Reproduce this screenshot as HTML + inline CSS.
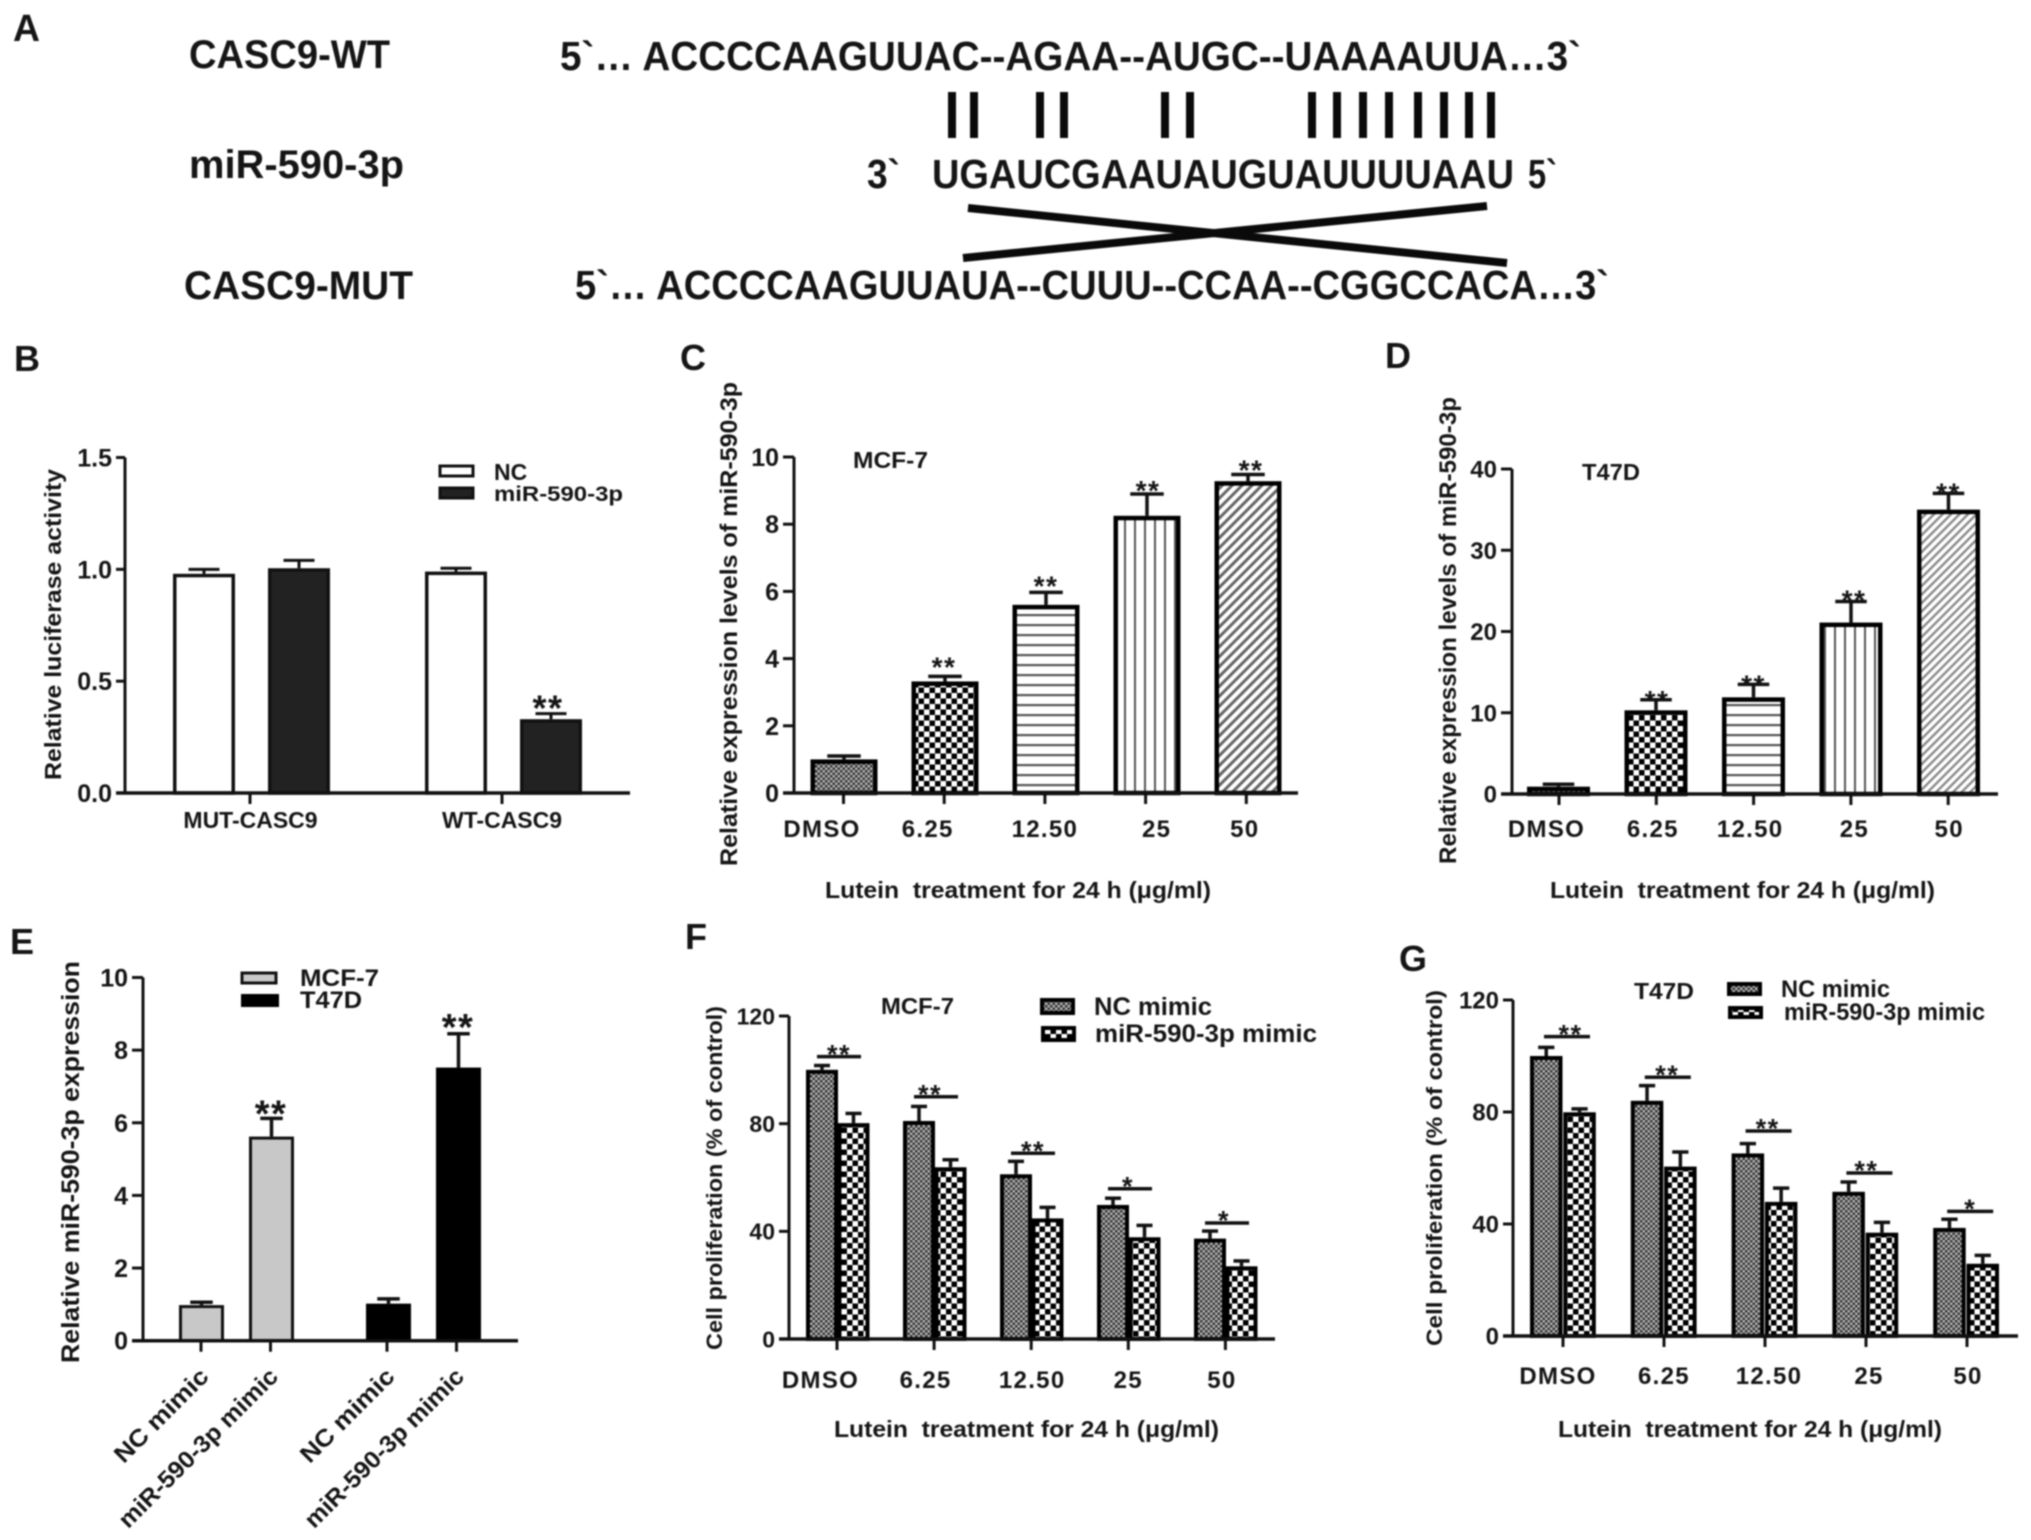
<!DOCTYPE html>
<html lang="en">
<head>
<meta charset="utf-8">
<title>CASC9 and miR-590-3p figure</title>
<style>
html,body{margin:0;padding:0;background:#fff;width:2031px;height:1540px;overflow:hidden}
svg{display:block;filter:blur(.8px)}
text{font-family:"Liberation Sans",sans-serif;font-weight:bold;fill:#151515}
</style>
</head>
<body>
<svg id="figure" xmlns="http://www.w3.org/2000/svg" width="2031" height="1540" viewBox="0 0 2031 1540">
<defs>
<pattern id="pFine" patternUnits="userSpaceOnUse" width="5" height="5"><rect width="5" height="5" fill="#b5b5b5"/><rect width="2.5" height="2.5" fill="#333"/><rect x="2.5" y="2.5" width="2.5" height="2.5" fill="#333"/></pattern>
<pattern id="pCheck" patternUnits="userSpaceOnUse" width="11" height="11"><rect width="11" height="11" fill="#fff"/><rect width="5.5" height="5.5" fill="#000"/><rect x="5.5" y="5.5" width="5.5" height="5.5" fill="#000"/></pattern>
<pattern id="pH" patternUnits="userSpaceOnUse" width="10" height="10"><rect width="10" height="10" fill="#fff"/><rect y="4" width="10" height="2.2" fill="#555"/></pattern>
<pattern id="pV" patternUnits="userSpaceOnUse" width="10" height="10"><rect width="10" height="10" fill="#fff"/><rect x="4" width="2" height="10" fill="#555"/></pattern>
<pattern id="pD" patternUnits="userSpaceOnUse" width="7" height="7" patternTransform="rotate(45)"><rect width="7" height="7" fill="#fff"/><rect x="2" width="3" height="7" fill="#666"/></pattern>
<pattern id="pDLight" patternUnits="userSpaceOnUse" width="6" height="6" patternTransform="rotate(45)"><rect width="6" height="6" fill="#fff"/><rect x="2" width="2.4" height="6" fill="#8a8a8a"/></pattern>
</defs>

<g id="panel-a">
<text x="13" y="41" font-size="38" textLength="27" lengthAdjust="spacingAndGlyphs">A</text>
<text x="189" y="68" font-size="40" textLength="201" lengthAdjust="spacingAndGlyphs">CASC9-WT</text>
<text x="189" y="178" font-size="40" textLength="215" lengthAdjust="spacingAndGlyphs">miR-590-3p</text>
<text x="184" y="299" font-size="40" textLength="229" lengthAdjust="spacingAndGlyphs">CASC9-MUT</text>
<text x="560" y="70" font-size="41" textLength="1021" lengthAdjust="spacingAndGlyphs">5`… ACCCCAAGUUAC--AGAA--AUGC--UAAAAUUA…3`</text>
<text x="867" y="188" font-size="41" textLength="33" lengthAdjust="spacingAndGlyphs">3`</text>
<text x="932" y="188" font-size="41" textLength="582" lengthAdjust="spacingAndGlyphs">UGAUCGAAUAUGUAUUUUAAU</text>
<text x="1528" y="188" font-size="41" textLength="29" lengthAdjust="spacingAndGlyphs">5`</text>
<text x="575" y="299" font-size="41" textLength="1034" lengthAdjust="spacingAndGlyphs">5`… ACCCCAAGUUAUA--CUUU--CCAA--CGGCCACA…3`</text>
<g fill="#0a0a0a">
<rect x="948" y="92" width="8" height="46"/>
<rect x="970" y="92" width="8" height="46"/>
<rect x="1036" y="92" width="8" height="46"/>
<rect x="1060" y="92" width="8" height="46"/>
<rect x="1161" y="92" width="8" height="46"/>
<rect x="1186" y="92" width="8" height="46"/>
<rect x="1308" y="92" width="8" height="46"/>
<rect x="1333" y="92" width="8" height="46"/>
<rect x="1359" y="92" width="8" height="46"/>
<rect x="1385" y="92" width="8" height="46"/>
<rect x="1414" y="92" width="8" height="46"/>
<rect x="1440" y="92" width="8" height="46"/>
<rect x="1465" y="92" width="8" height="46"/>
<rect x="1487" y="92" width="8" height="46"/>
</g>
<line x1="968" y1="208" x2="1507" y2="263" stroke="#0a0a0a" stroke-width="8"/>
<line x1="963" y1="258" x2="1487" y2="206" stroke="#0a0a0a" stroke-width="8"/>
</g>

<g id="panel-b">
<text x="14" y="371" font-size="36">B</text>
<text transform="translate(61 624.5) rotate(-90)" text-anchor="middle" font-size="23" textLength="311" lengthAdjust="spacingAndGlyphs">Relative luciferase activity</text>
<g>
<rect x="440" y="466" width="33" height="10" fill="#fff" stroke="#111" stroke-width="3"/>
<text x="494" y="480" font-size="23">NC</text>
<rect x="440" y="488" width="33" height="10" fill="#222" stroke="#111" stroke-width="3"/>
<text x="494" y="501" font-size="21" textLength="129" lengthAdjust="spacingAndGlyphs">miR-590-3p</text>
</g>
</g>

<g id="panel-c">
<text x="680" y="370" font-size="36">C</text>
<text transform="translate(737 624) rotate(-90)" text-anchor="middle" font-size="24" textLength="484" lengthAdjust="spacingAndGlyphs">Relative expression levels of miR-590-3p</text>
<text x="825" y="898" font-size="23" textLength="386" lengthAdjust="spacingAndGlyphs" xml:space="preserve">Lutein  treatment for 24 h (μg/ml)</text>
<text x="853" y="468" font-size="23" textLength="75" lengthAdjust="spacingAndGlyphs">MCF-7</text>
</g>

<g id="panel-d">
<text x="1385" y="368" font-size="36">D</text>
<text transform="translate(1456 630.5) rotate(-90)" text-anchor="middle" font-size="24" textLength="467" lengthAdjust="spacingAndGlyphs">Relative expression levels of miR-590-3p</text>
<text x="1550" y="898" font-size="23" textLength="385" lengthAdjust="spacingAndGlyphs" xml:space="preserve">Lutein  treatment for 24 h (μg/ml)</text>
<text x="1582" y="480" font-size="23" textLength="58" lengthAdjust="spacingAndGlyphs">T47D</text>
</g>

<g id="panel-e">
<text x="10" y="954" font-size="36">E</text>
<text transform="translate(79 1162) rotate(-90)" text-anchor="middle" font-size="25" textLength="402" lengthAdjust="spacingAndGlyphs">Relative miR-590-3p expression</text>
<g>
<rect x="242" y="973" width="34" height="10" fill="#c8c8c8" stroke="#111" stroke-width="3"/>
<text x="300" y="986" font-size="24" textLength="79" lengthAdjust="spacingAndGlyphs">MCF-7</text>
<rect x="242" y="995" width="36" height="11" fill="#000" stroke="#000" stroke-width="2"/>
<text x="300" y="1008" font-size="24" textLength="62" lengthAdjust="spacingAndGlyphs">T47D</text>
</g>
</g>

<g id="panel-f">
<text x="685" y="949" font-size="36">F</text>
<text transform="translate(722 1178) rotate(-90)" text-anchor="middle" font-size="22" textLength="344" lengthAdjust="spacingAndGlyphs">Cell proliferation (% of control)</text>
<text x="834" y="1437" font-size="23" textLength="385" lengthAdjust="spacingAndGlyphs" xml:space="preserve">Lutein  treatment for 24 h (μg/ml)</text>
<text x="881" y="1014" font-size="23" textLength="73" lengthAdjust="spacingAndGlyphs">MCF-7</text>
<g>
<rect x="1042" y="1000" width="31" height="13" fill="url(#pFine)" stroke="#000" stroke-width="4"/>
<text x="1094" y="1015" font-size="25" textLength="118" lengthAdjust="spacingAndGlyphs">NC mimic</text>
<rect x="1043" y="1028" width="31" height="12" fill="url(#pCheck)" stroke="#000" stroke-width="4"/>
<text x="1095" y="1042" font-size="25" textLength="222" lengthAdjust="spacingAndGlyphs">miR-590-3p mimic</text>
</g>
</g>

<g id="panel-g">
<text x="1399" y="971" font-size="36">G</text>
<text transform="translate(1442 1168) rotate(-90)" text-anchor="middle" font-size="22" textLength="356" lengthAdjust="spacingAndGlyphs">Cell proliferation (% of control)</text>
<text x="1558" y="1437" font-size="23" textLength="384" lengthAdjust="spacingAndGlyphs" xml:space="preserve">Lutein  treatment for 24 h (μg/ml)</text>
<text x="1634" y="999" font-size="23" textLength="60" lengthAdjust="spacingAndGlyphs">T47D</text>
<g>
<rect x="1729" y="984" width="31" height="10" fill="url(#pFine)" stroke="#000" stroke-width="4"/>
<text x="1781" y="997" font-size="24" textLength="109" lengthAdjust="spacingAndGlyphs">NC mimic</text>
<rect x="1730" y="1008" width="31" height="9" fill="url(#pCheck)" stroke="#000" stroke-width="4"/>
<text x="1784" y="1020" font-size="24" textLength="201" lengthAdjust="spacingAndGlyphs">miR-590-3p mimic</text>
</g>
</g>
</svg>

<script>
// Panel B
const bCategories = ['MUT-CASC9', 'WT-CASC9'];
const bYTicks = ['0.0', '0.5', '1.0', '1.5'];
const bNC = [0.98, 0.99];
const bNCError = [0.02, 0.015];
const bMimic = [1.005, 0.33];
const bMimicError = [0.035, 0.025];
const bMimicStars = ['', '**'];

// Panel C
const cCategories = ['DMSO', '6.25', '12.50', '25', '50'];
const cYTicks = ['0', '2', '4', '6', '8', '10'];
const cValues = [1.0, 3.32, 5.6, 8.25, 9.28];
const cErrors = [0.1, 0.15, 0.37, 0.65, 0.2];
const cStars = ['', '**', '**', '**', '**'];

// Panel D
const dCategories = ['DMSO', '6.25', '12.50', '25', '50'];
const dYTicks = ['0', '10', '20', '30', '40'];
const dValues = [0.9, 10.3, 11.9, 21.1, 35];
const dErrors = [0.3, 1.3, 1.6, 2.6, 2.0];
const dStars = ['', '**', '**', '**', '**'];

// Panel E
const eCategories = ['NC mimic', 'miR-590-3p mimic', 'NC mimic', 'miR-590-3p mimic'];
const eYTicks = ['0', '2', '4', '6', '8', '10'];
const eValues = [0.98, 5.62, 1.02, 7.52];
const eErrors = [0.08, 0.5, 0.13, 0.93];
const eStars = ['', '**', '', '**'];

// Panel F
const fCategories = ['DMSO', '6.25', '12.50', '25', '50'];
const fYTicks = ['0', '40', '80', '120'];
const fNC = [100, 81, 61.2, 49.8, 37.3];
const fNCError = [1.6, 5.4, 4.8, 2.5, 2.8];
const fMimic = [80.2, 63.8, 44.8, 37.8, 27];
const fMimicError = [3.6, 2.8, 4.1, 4.4, 2];
const fSigLevels = [104.9, 90, 69, 55.8, 43.1];
const fStars = ['**', '**', '**', '*', '*'];

// Panel G
const gCategories = ['DMSO', '6.25', '12.50', '25', '50'];
const gYTicks = ['0', '40', '80', '120'];
const gNC = [100, 84, 65.2, 51.5, 38.6];
const gNCError = [3.1, 5.4, 3.5, 3.5, 3.1];
const gMimic = [79.9, 60.5, 47.9, 36.9, 25.8];
const gMimicError = [1.2, 5.2, 4.9, 3.7, 3];
const gSigLevels = [106.9, 92.4, 73.2, 58.2, 44.5];
const gStars = ['**', '**', '**', '**', '*'];

const NS = 'http://www.w3.org/2000/svg';

function add(parent, tag, props) {
  const el = document.createElementNS(NS, tag);
  Object.keys(props).forEach(function (k) { el.setAttribute(k, props[k]); });
  parent.appendChild(el);
  return el;
}

function drawStar(g, text, x, centerY, size) {
  const s = add(g, 'text', { x: x, y: centerY + 0.58 * size, 'font-size': size, 'text-anchor': 'middle', 'letter-spacing': 1.5 });
  
  
  s.textContent = text;
}

function drawAxes(p, yTicks, categories, yScale) {
  const g = document.getElementById(p.id);
  const yAxis = add(g, 'line', { x1: p.axisX, x2: p.axisX, y1: p.yTop, y2: p.yBot, stroke: '#111', 'stroke-width': p.axisWidth });
  
  
  yTicks.forEach(function (label) {
    const yy = yScale(parseFloat(label));
    const tick = add(g, 'line', { x1: p.xLeft, x2: p.axisX, y1: yy, y2: yy, stroke: '#111', 'stroke-width': p.axisWidth });
    
    
    const t = add(g, 'text', { x: p.xLeft - 4, y: yy + 0.36 * p.tickSize, 'font-size': p.tickSize, 'text-anchor': 'end' });
    
    
    t.textContent = label;
  });
  categories.forEach(function (label, i) {
    const tx = p.tickX(i);
    const tick = add(g, 'line', { x1: tx, x2: tx, y1: p.yBot, y2: p.yBot + 11, stroke: '#111', 'stroke-width': p.axisWidth });
    
    
    let t;
    if (p.rotated) {
      t = add(g, 'text', { transform: 'translate(' + (tx + 9) + ' ' + p.labelY + ') rotate(-45)', 'font-size': p.labelSize, 'text-anchor': 'end', textLength: p.labelLength[i], lengthAdjust: 'spacingAndGlyphs' });
    } else {
      t = add(g, 'text', { x: tx + p.labelNudge[i], y: p.labelY, 'font-size': p.labelSize, 'text-anchor': 'middle', 'letter-spacing': p.labelSpacing });
    }
    
    
    t.textContent = label;
  });
}

function drawBar(p, value, error, x, width, fill, fillStyle, yScale) {
  const g = document.getElementById(p.id);
  const sw = p.barStroke;
  const top = yScale(value);
  const cx = x + width / 2;
  const errTop = yScale(value + error);
  const stem = add(g, 'line', { x1: cx, x2: cx, y1: top, y2: errTop, stroke: '#111', 'stroke-width': p.errorWidth });
  
  
  const cap = add(g, 'line', { x1: cx - width * 0.25, x2: cx + width * 0.25, y1: errTop, y2: errTop, stroke: '#111', 'stroke-width': p.errorWidth });
  
  
  const bar = add(g, 'rect', { x: x + sw / 2, y: top + sw / 2, width: width - sw, height: Math.max(p.yBot - top - sw / 2, 0), fill: fill, stroke: fillStyle, 'stroke-width': sw });
  
  
  return errTop;
}

function finishAxis(p) {
  const g = document.getElementById(p.id);
  const xAxis = add(g, 'line', { x1: p.xLeft, x2: p.xRight, y1: p.yBot, y2: p.yBot, stroke: '#111', 'stroke-width': p.axisWidth + 0.5 });
  
  
}

function makeYScale(p) {
  return function (v) { return p.yBot - (v / p.yMax) * (p.yBot - p.yTop); };
}

// Panel B: two groups, two series
(function () {
  const p = { id: 'panel-b', axisX: 125, xLeft: 116, xRight: 630, yTop: 457.5, yBot: 793, yMax: 1.5, axisWidth: 3, tickSize: 25,
    tickX: function (i) { return 250 + i * 252; }, labelNudge: [0.5, 0], labelY: 828, labelSize: 23, labelSpacing: 0,
    barStroke: 3.5, errorWidth: 3, barShift: -1 };
  const yScale = makeYScale(p);
  drawAxes(p, bYTicks, bCategories, yScale);
  bCategories.forEach(function (c, i) {
    const x0 = 173 + i * 252;
    drawBar(p, bNC[i], bNCError[i], x0, 62, '#fff', '#111', yScale);
    const top = drawBar(p, bMimic[i], bMimicError[i], x0 + 95, 62, '#222', '#111', yScale);
    if (bMimicStars[i]) drawStar(document.getElementById(p.id), bMimicStars[i], x0 + 95 + 28, top - 14, 36);
  });
  finishAxis(p);
})();

// Panel C and D: single series with hatch patterns
function drawSingle(p, categories, yTicks, values, errors, stars) {
  const yScale = makeYScale(p);
  const fills = ['url(#pFine)', 'url(#pCheck)', 'url(#pH)', 'url(#pV)', p.diagFill];
  drawAxes(p, yTicks, categories, yScale);
  values.forEach(function (v, i) {
    const x = p.barStart + i * p.barStep;
    const top = drawBar(p, v, errors[i], x, p.barWidth, fills[i], '#000', yScale);
    if (stars[i]) drawStar(document.getElementById(p.id), stars[i], x + p.barWidth / 2 + p.starNudge[i], top - p.starGap[i], 28);
  });
  finishAxis(p);
}

drawSingle({ id: 'panel-c', axisX: 794, xLeft: 783, xRight: 1298, yTop: 457, yBot: 793, yMax: 10, axisWidth: 3, tickSize: 25,
  tickX: function (i) { return 843.5 + i * 100.7; }, labelNudge: [-21.5, -16.5, 0, 11, -1.5], labelY: 837, labelSize: 24, labelSpacing: 1.3,
  barStroke: 4.5, errorWidth: 3.5, barStart: 810.5, barStep: 101, barWidth: 67, starNudge: [0, -1, 0, 1, 3], starGap: [0, 16, 13, 10, 11], diagFill: 'url(#pD)' },
  cCategories, cYTicks, cValues, cErrors, cStars);

drawSingle({ id: 'panel-d', axisX: 1512, xLeft: 1501, xRight: 1998, yTop: 469, yBot: 794, yMax: 40, axisWidth: 3, tickSize: 24,
  tickX: function (i) { return 1559 + i * 97.3; }, labelNudge: [-12.5, -3.5, -3.5, 3.5, 1], labelY: 837, labelSize: 24, labelSpacing: 1.3,
  barStroke: 4.5, errorWidth: 3.5, barStart: 1527, barStep: 97.5, barWidth: 63, starNudge: [0, 1, 0, 3, 0], starGap: [0, 6, 6, 8, 7], diagFill: 'url(#pDLight)' },
  dCategories, dYTicks, dValues, dErrors, dStars);

// Panel E: four bars in two cell-line groups
(function () {
  const p = { id: 'panel-e', axisX: 143, xLeft: 132, xRight: 518, yTop: 977.5, yBot: 1340.7, yMax: 10, axisWidth: 3, tickSize: 25,
    tickX: function (i) { return 201 + i * 69.5 + (i >= 2 ? 47 : 0); }, rotated: true, labelY: 1378, labelSize: 24, labelLength: [122, 214, 122, 214],
    barStroke: 3, errorWidth: 3.5 };
  const yScale = makeYScale(p);
  drawAxes(p, eYTicks, eCategories, yScale);
  eValues.forEach(function (v, i) {
    const x = 179 + i * 70 + (i >= 2 ? 47 : 0);
    const dark = i >= 2;
    const top = drawBar(p, v, eErrors[i], x, 45, dark ? '#000' : '#c8c8c8', dark ? '#000' : '#111', yScale);
    if (eStars[i]) drawStar(document.getElementById(p.id), eStars[i], x + 22, top - (dark ? 16 : 14), 38);
  });
  finishAxis(p);
})();

// Panel F and G: two patterned series with significance brackets
function drawGrouped(p, categories, yTicks, nc, ncErr, mimic, mimicErr, sig, stars) {
  const yScale = makeYScale(p);
  const g = document.getElementById(p.id);
  drawAxes(p, yTicks, categories, yScale);
  categories.forEach(function (c, i) {
    const x = p.barStart + i * p.groupStep;
    drawBar(p, nc[i], ncErr[i], x, p.barWidth, 'url(#pFine)', '#000', yScale);
    drawBar(p, mimic[i], mimicErr[i], x + p.seriesStep, p.barWidth, 'url(#pCheck)', '#000', yScale);
    const sy = yScale(sig[i]);
    const sx = p.sigStart + i * p.groupStep;
    const line = add(g, 'line', { x1: sx, x2: sx + p.sigWidth, y1: sy, y2: sy, stroke: '#111', 'stroke-width': 3.5 });
    
    
    drawStar(g, stars[i], sx + p.sigWidth / 2 + p.starNudge[i], sy - 9, 27);
  });
  finishAxis(p);
}

drawGrouped({ id: 'panel-f', axisX: 789, xLeft: 779, xRight: 1275, yTop: 1016, yBot: 1339, yMax: 120, axisWidth: 3, tickSize: 23,
  tickX: function (i) { return 837 + i * 97.1; }, labelNudge: [-16.5, -8.5, 1, 0, -3.5], labelY: 1388, labelSize: 24, labelSpacing: 1.3,
  barStroke: 4, errorWidth: 3.5, barStart: 806, groupStep: 97, barWidth: 32, seriesStep: 31.5, sigStart: 817, sigWidth: 44, starNudge: [0, -6, 0, -2, -3] },
  fCategories, fYTicks, fNC, fNCError, fMimic, fMimicError, fSigLevels, fStars);

drawGrouped({ id: 'panel-g', axisX: 1513, xLeft: 1503, xRight: 2018, yTop: 1000, yBot: 1336, yMax: 120, axisWidth: 3, tickSize: 24,
  tickX: function (i) { return 1563 + i * 101; }, labelNudge: [-5, 0, 4, 3, 1], labelY: 1384, labelSize: 24, labelSpacing: 1.3,
  barStroke: 4, errorWidth: 3.5, barStart: 1530, groupStep: 100.8, barWidth: 32.5, seriesStep: 33.3, sigStart: 1544, sigWidth: 46, starNudge: [3.5, -0.5, -1, -3, 0] },
  gCategories, gYTicks, gNC, gNCError, gMimic, gMimicError, gSigLevels, gStars);
</script>
</body>
</html>
